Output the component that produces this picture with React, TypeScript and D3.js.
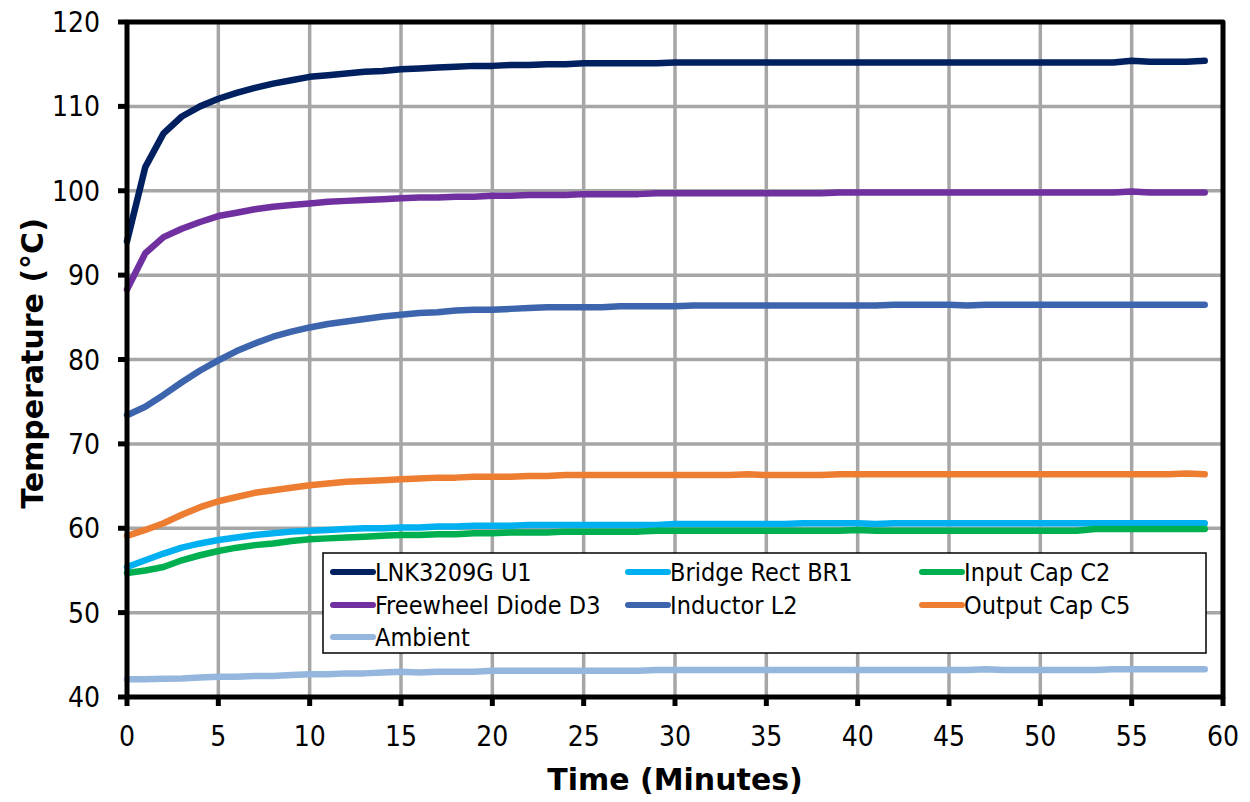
import React from "react";
import * as d3 from "d3";

const minutes: number[] = d3.range(0, 60);

const u1: number[] = [
  94.0, 102.8, 106.8, 108.8, 110.0, 110.9, 111.6, 112.2, 112.7, 113.1,
  113.5, 113.7, 113.9, 114.1, 114.2, 114.4, 114.5, 114.6, 114.7, 114.8,
  114.8, 114.9, 114.9, 115.0, 115.0, 115.1, 115.1, 115.1, 115.1, 115.1,
  115.2, 115.2, 115.2, 115.2, 115.2, 115.2, 115.2, 115.2, 115.2, 115.2,
  115.2, 115.2, 115.2, 115.2, 115.2, 115.2, 115.2, 115.2, 115.2, 115.2,
  115.2, 115.2, 115.2, 115.2, 115.2, 115.4, 115.3, 115.3, 115.3, 115.4,
];
const br1: number[] = [
  55.4, 56.2, 57.0, 57.7, 58.2, 58.6, 58.9, 59.2, 59.4, 59.6,
  59.7, 59.8, 59.9, 60.0, 60.0, 60.1, 60.1, 60.2, 60.2, 60.3,
  60.3, 60.3, 60.4, 60.4, 60.4, 60.4, 60.4, 60.4, 60.4, 60.4,
  60.5, 60.5, 60.5, 60.5, 60.5, 60.5, 60.5, 60.6, 60.6, 60.6,
  60.6, 60.5, 60.6, 60.6, 60.6, 60.6, 60.6, 60.6, 60.6, 60.6,
  60.6, 60.6, 60.6, 60.6, 60.6, 60.6, 60.6, 60.6, 60.6, 60.6,
];
const c2: number[] = [
  54.7, 55.0, 55.4, 56.2, 56.8, 57.3, 57.7, 58.0, 58.2, 58.5,
  58.7, 58.8, 58.9, 59.0, 59.1, 59.2, 59.2, 59.3, 59.3, 59.4,
  59.4, 59.5, 59.5, 59.5, 59.6, 59.6, 59.6, 59.6, 59.6, 59.7,
  59.7, 59.7, 59.7, 59.7, 59.7, 59.7, 59.7, 59.7, 59.7, 59.7,
  59.8, 59.7, 59.7, 59.7, 59.7, 59.7, 59.7, 59.7, 59.7, 59.7,
  59.7, 59.7, 59.7, 59.9, 59.9, 59.9, 59.9, 59.9, 59.9, 59.9,
];
const d3diode: number[] = [
  88.3, 92.6, 94.5, 95.5, 96.3, 97.0, 97.4, 97.8, 98.1, 98.3,
  98.5, 98.7, 98.8, 98.9, 99.0, 99.1, 99.2, 99.2, 99.3, 99.3,
  99.4, 99.4, 99.5, 99.5, 99.5, 99.6, 99.6, 99.6, 99.6, 99.7,
  99.7, 99.7, 99.7, 99.7, 99.7, 99.7, 99.7, 99.7, 99.7, 99.8,
  99.8, 99.8, 99.8, 99.8, 99.8, 99.8, 99.8, 99.8, 99.8, 99.8,
  99.8, 99.8, 99.8, 99.8, 99.8, 99.9, 99.8, 99.8, 99.8, 99.8,
];
const l2: number[] = [
  73.4, 74.4, 75.8, 77.3, 78.7, 79.9, 81.0, 81.9, 82.7, 83.3,
  83.8, 84.2, 84.5, 84.8, 85.1, 85.3, 85.5, 85.6, 85.8, 85.9,
  85.9, 86.0, 86.1, 86.2, 86.2, 86.2, 86.2, 86.3, 86.3, 86.3,
  86.3, 86.4, 86.4, 86.4, 86.4, 86.4, 86.4, 86.4, 86.4, 86.4,
  86.4, 86.4, 86.5, 86.5, 86.5, 86.5, 86.4, 86.5, 86.5, 86.5,
  86.5, 86.5, 86.5, 86.5, 86.5, 86.5, 86.5, 86.5, 86.5, 86.5,
];
const c5: number[] = [
  59.1, 59.8, 60.6, 61.6, 62.5, 63.2, 63.7, 64.2, 64.5, 64.8,
  65.1, 65.3, 65.5, 65.6, 65.7, 65.8, 65.9, 66.0, 66.0, 66.1,
  66.1, 66.1, 66.2, 66.2, 66.3, 66.3, 66.3, 66.3, 66.3, 66.3,
  66.3, 66.3, 66.3, 66.3, 66.4, 66.3, 66.3, 66.3, 66.3, 66.4,
  66.4, 66.4, 66.4, 66.4, 66.4, 66.4, 66.4, 66.4, 66.4, 66.4,
  66.4, 66.4, 66.4, 66.4, 66.4, 66.4, 66.4, 66.4, 66.5, 66.4,
];
const ambient: number[] = [
  42.1, 42.1, 42.15, 42.2, 42.3, 42.4, 42.4, 42.5, 42.5, 42.6,
  42.7, 42.7, 42.8, 42.8, 42.9, 43.0, 42.9, 43.0, 43.0, 43.0,
  43.1, 43.1, 43.1, 43.1, 43.1, 43.1, 43.1, 43.1, 43.1, 43.2,
  43.2, 43.2, 43.2, 43.2, 43.2, 43.2, 43.2, 43.2, 43.2, 43.2,
  43.2, 43.2, 43.2, 43.2, 43.2, 43.2, 43.2, 43.3, 43.2, 43.2,
  43.2, 43.2, 43.2, 43.2, 43.3, 43.3, 43.3, 43.3, 43.3, 43.3,
];

const seriesNames: string[] = [
  "LNK3209G U1",
  "Bridge Rect BR1",
  "Input Cap C2",
  "Freewheel Diode D3",
  "Inductor L2",
  "Output Cap C5",
  "Ambient",
];
const seriesValues: number[][] = [u1, br1, c2, d3diode, l2, c5, ambient];
const seriesColors: string[] = [
  "#002060",
  "#00B0F0",
  "#00B050",
  "#7030A0",
  "#3D65AD",
  "#ED7D31",
  "#95B7DE",
];

const xTicks: number[] = d3.range(0, 61, 5);
const yTicks: number[] = d3.range(40, 121, 10);

const W = 1250;
const H = 802;
const left = 127;
const right = 1223;
const top = 22;
const bottom = 697;
const FONT = "Tahoma, 'DejaVu Sans Condensed', 'Liberation Sans', sans-serif";
const TITLE_FONT = "Verdana, 'DejaVu Sans', sans-serif";

export default function App() {
  const x = d3.scaleLinear().domain([0, 60]).range([left, right]);
  const y = d3.scaleLinear().domain([40, 120]).range([bottom, top]);
  const line = d3
    .line<number>()
    .x((_, i) => x(minutes[i]))
    .y((d) => y(d))
    .curve(d3.curveLinear);

  const legendX = 323;
  const legendY = 553;
  const colX = [333, 628, 922];
  const rowY = [572, 605, 637];

  return (
    <svg
      width={W}
      height={H}
      style={{ position: "absolute", left: 0, top: 0, background: "#fff" }}
      fontFamily={FONT}
    >
      <rect x={0} y={0} width={W} height={H} fill="#fff" />
      {xTicks.map((t) => (
        <line key={"gx" + t} x1={x(t)} x2={x(t)} y1={top} y2={bottom} stroke="#A6A6A6" strokeWidth={3.5} />
      ))}
      {yTicks.map((t) => (
        <line key={"gy" + t} x1={left} x2={right} y1={y(t)} y2={y(t)} stroke="#A6A6A6" strokeWidth={3.5} />
      ))}
      {seriesValues.map((vals, i) => (
        <path
          key={seriesNames[i]}
          d={line(vals) || ""}
          fill="none"
          stroke={seriesColors[i]}
          strokeWidth={6.5}
          strokeLinecap="round"
          strokeLinejoin="round"
        />
      ))}
      <rect
        x={left}
        y={top}
        width={right - left}
        height={bottom - top}
        fill="none"
        stroke="#000"
        strokeWidth={5}
        strokeLinejoin="round"
      />
      {yTicks.map((t) => (
        <line key={"ty" + t} x1={left - 9} x2={left} y1={y(t)} y2={y(t)} stroke="#000" strokeWidth={5} />
      ))}
      {xTicks.map((t) => (
        <line key={"tx" + t} x1={x(t)} x2={x(t)} y1={bottom} y2={bottom + 9} stroke="#000" strokeWidth={5} />
      ))}
      {yTicks.map((t) => (
        <text key={"ly" + t} x={100} y={y(t)} dy="0.36em" textAnchor="end" fontSize={28} fill="#000">
          {t}
        </text>
      ))}
      {xTicks.map((t) => (
        <text key={"lx" + t} x={x(t)} y={746} textAnchor="middle" fontSize={28} fill="#000">
          {t}
        </text>
      ))}
      <text
        x={(left + right) / 2}
        y={790}
        textAnchor="middle"
        fontSize={30}
        fontWeight="bold"
        fill="#000"
        fontFamily={TITLE_FONT}
      >
        Time (Minutes)
      </text>
      <text
        transform={`translate(43, ${(top + bottom) / 2 + 4}) rotate(-90)`}
        textAnchor="middle"
        fontSize={30}
        fontWeight="bold"
        fill="#000"
        fontFamily={TITLE_FONT}
      >
        Temperature (°C)
      </text>
      <rect x={legendX} y={legendY} width={883} height={100} fill="#fff" stroke="#000" strokeWidth={1.5} />
      {seriesNames.map((name, i) => {
        const col = i % 3;
        const row = Math.floor(i / 3);
        const lx = colX[col];
        const ly = rowY[row];
        return (
          <g key={"lg" + name}>
            <line x1={lx} x2={lx + 40} y1={ly} y2={ly} stroke={seriesColors[i]} strokeWidth={6} strokeLinecap="round" />
            <text x={lx + 42} y={ly} dy="0.36em" fontSize={25} fill="#000">
              {name}
            </text>
          </g>
        );
      })}
    </svg>
  );
}
